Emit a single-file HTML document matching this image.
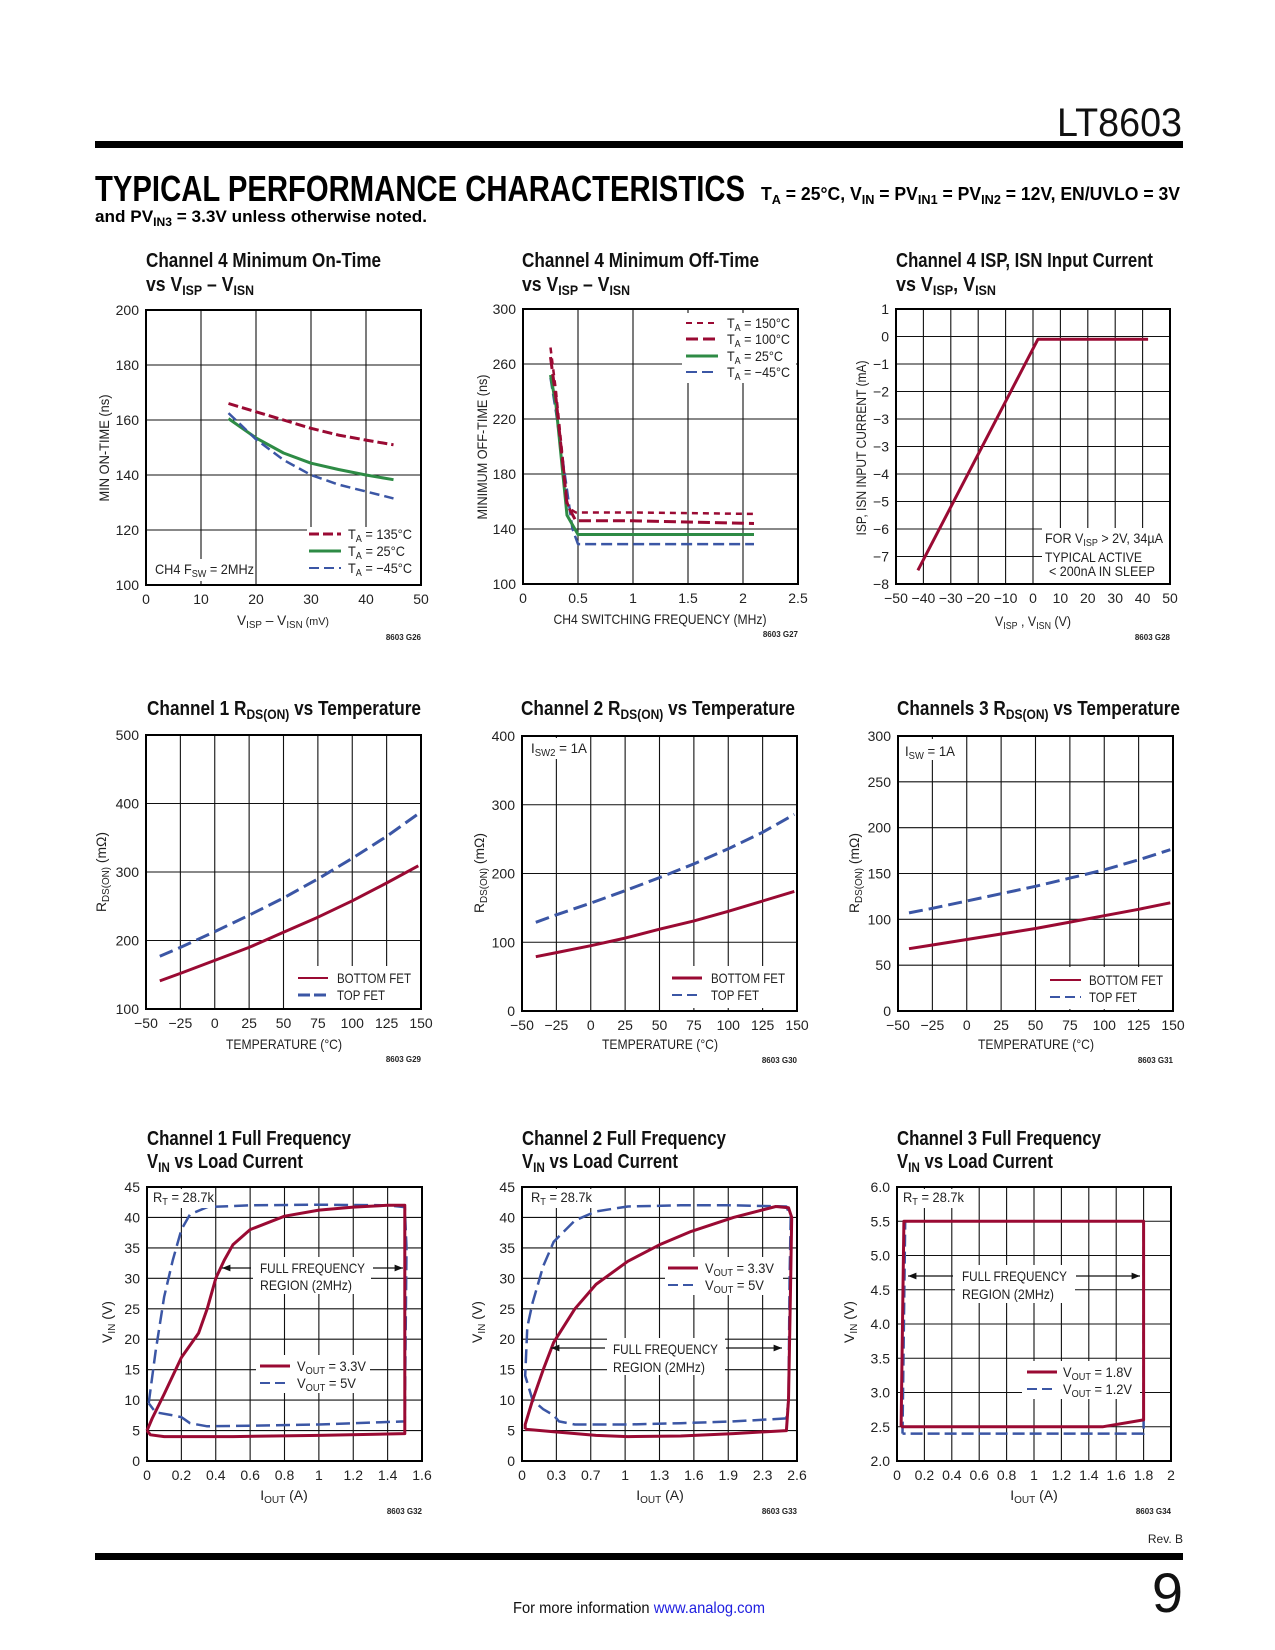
<!DOCTYPE html>
<html><head><meta charset="utf-8">
<style>
html,body{margin:0;padding:0;background:#fff;}
svg{display:block;}
text{font-family:"Liberation Sans Narrow","Liberation Sans",sans-serif;fill:#222;}
.tt{font-weight:bold;font-size:20px;fill:#111;}
.tk{font-size:14px;}
.ax{font-size:14px;}
.lg{font-size:14px;}
.id{font-size:8px;font-weight:bold;}
</style></head>
<body>
<svg id="page" xmlns="http://www.w3.org/2000/svg" width="1275" height="1650" viewBox="0 0 1275 1650">
<defs>
<marker id="arr" viewBox="0 0 10 10" refX="10" refY="5" markerWidth="9" markerHeight="7" orient="auto-start-reverse"><path d="M0,1 L10,5 L0,9 Z" fill="#111"/></marker>
</defs>
<rect x="0" y="0" width="1275" height="1650" fill="#fff"/>
<!-- header -->
<text x="1182" y="136" text-anchor="end" textLength="125" lengthAdjust="spacingAndGlyphs" style="font-size:40px;fill:#111">LT8603</text>
<rect x="95" y="141" width="1088" height="7" fill="#000"/>
<text x="95" y="201" textLength="650" lengthAdjust="spacingAndGlyphs" style="font-family:'Liberation Sans',sans-serif;font-weight:900;font-size:36px;fill:#000">TYPICAL PERFORMANCE CHARACTERISTICS</text>
<text x="761" y="200" textLength="419" lengthAdjust="spacingAndGlyphs" style="font-weight:bold;font-size:18px;fill:#000">T<tspan font-size="13" dy="4">A</tspan><tspan dy="-4"> = 25°C, V</tspan><tspan font-size="13" dy="4">IN</tspan><tspan dy="-4"> = PV</tspan><tspan font-size="13" dy="4">IN1</tspan><tspan dy="-4"> = PV</tspan><tspan font-size="13" dy="4">IN2</tspan><tspan dy="-4"> = 12V, EN/UVLO = 3V</tspan></text>
<text x="95" y="222" textLength="332" lengthAdjust="spacingAndGlyphs" style="font-weight:bold;font-size:17px;fill:#000">and PV<tspan font-size="12" dy="4">IN3</tspan><tspan dy="-4"> = 3.3V unless otherwise noted.</tspan></text>

<!-- chart titles -->
<text class="tt" x="146" y="267" textLength="235" lengthAdjust="spacingAndGlyphs">Channel 4 Minimum On-Time</text>
<text class="tt" x="146" y="291" textLength="108" lengthAdjust="spacingAndGlyphs">vs V<tspan font-size="14" dy="4">ISP</tspan><tspan dy="-4"> – V</tspan><tspan font-size="14" dy="4">ISN</tspan></text>
<text class="tt" x="522" y="267" textLength="237" lengthAdjust="spacingAndGlyphs">Channel 4 Minimum Off-Time</text>
<text class="tt" x="522" y="291" textLength="108" lengthAdjust="spacingAndGlyphs">vs V<tspan font-size="14" dy="4">ISP</tspan><tspan dy="-4"> – V</tspan><tspan font-size="14" dy="4">ISN</tspan></text>
<text class="tt" x="896" y="267" textLength="257" lengthAdjust="spacingAndGlyphs">Channel 4 ISP, ISN Input Current</text>
<text class="tt" x="896" y="291" textLength="100" lengthAdjust="spacingAndGlyphs">vs V<tspan font-size="14" dy="4">ISP</tspan><tspan dy="-4">, V</tspan><tspan font-size="14" dy="4">ISN</tspan></text>

<text class="tt" x="147" y="715" textLength="274" lengthAdjust="spacingAndGlyphs">Channel 1 R<tspan font-size="14" dy="4">DS(ON)</tspan><tspan dy="-4"> vs Temperature</tspan></text>
<text class="tt" x="521" y="715" textLength="274" lengthAdjust="spacingAndGlyphs">Channel 2 R<tspan font-size="14" dy="4">DS(ON)</tspan><tspan dy="-4"> vs Temperature</tspan></text>
<text class="tt" x="897" y="715" textLength="283" lengthAdjust="spacingAndGlyphs">Channels 3 R<tspan font-size="14" dy="4">DS(ON)</tspan><tspan dy="-4"> vs Temperature</tspan></text>

<text class="tt" x="147" y="1145" textLength="204" lengthAdjust="spacingAndGlyphs">Channel 1 Full Frequency</text>
<text class="tt" x="147" y="1168" textLength="156" lengthAdjust="spacingAndGlyphs">V<tspan font-size="14" dy="4">IN</tspan><tspan dy="-4"> vs Load Current</tspan></text>
<text class="tt" x="522" y="1145" textLength="204" lengthAdjust="spacingAndGlyphs">Channel 2 Full Frequency</text>
<text class="tt" x="522" y="1168" textLength="156" lengthAdjust="spacingAndGlyphs">V<tspan font-size="14" dy="4">IN</tspan><tspan dy="-4"> vs Load Current</tspan></text>
<text class="tt" x="897" y="1145" textLength="204" lengthAdjust="spacingAndGlyphs">Channel 3 Full Frequency</text>
<text class="tt" x="897" y="1168" textLength="156" lengthAdjust="spacingAndGlyphs">V<tspan font-size="14" dy="4">IN</tspan><tspan dy="-4"> vs Load Current</tspan></text>

<g id="plots"></g>

<!-- axis titles -->
<text class="ax" transform="translate(109,448) rotate(-90)" text-anchor="middle" textLength="107" lengthAdjust="spacingAndGlyphs">MIN ON-TIME (ns)</text>
<text class="ax" x="283" y="625" text-anchor="middle" textLength="92" lengthAdjust="spacingAndGlyphs">V<tspan font-size="10" dy="3">ISP</tspan><tspan dy="-3"> – V</tspan><tspan font-size="10" dy="3">ISN</tspan><tspan dy="-3" font-size="11"> (mV)</tspan></text>
<text class="id" x="421" y="640" text-anchor="end">8603 G26</text>

<text class="ax" transform="translate(487,447) rotate(-90)" text-anchor="middle" textLength="145" lengthAdjust="spacingAndGlyphs">MINIMUM OFF-TIME (ns)</text>
<text class="ax" x="660" y="624" text-anchor="middle" textLength="213" lengthAdjust="spacingAndGlyphs">CH4 SWITCHING FREQUENCY (MHz)</text>
<text class="id" x="798" y="637" text-anchor="end">8603 G27</text>

<text class="ax" transform="translate(866,448) rotate(-90)" text-anchor="middle" textLength="175" lengthAdjust="spacingAndGlyphs">ISP, ISN INPUT CURRENT (mA)</text>
<text class="ax" x="1033" y="626" text-anchor="middle" textLength="76" lengthAdjust="spacingAndGlyphs">V<tspan font-size="10" dy="3">ISP</tspan><tspan dy="-3"> , V</tspan><tspan font-size="10" dy="3">ISN</tspan><tspan dy="-3"> (V)</tspan></text>
<text class="id" x="1170" y="640" text-anchor="end">8603 G28</text>

<text class="ax" transform="translate(106,872) rotate(-90)" text-anchor="middle" textLength="80" lengthAdjust="spacingAndGlyphs">R<tspan font-size="10" dy="3">DS(ON)</tspan><tspan dy="-3"> (mΩ)</tspan></text>
<text class="ax" x="284" y="1049" text-anchor="middle" textLength="116" lengthAdjust="spacingAndGlyphs">TEMPERATURE (°C)</text>
<text class="id" x="421" y="1062" text-anchor="end">8603 G29</text>

<text class="ax" transform="translate(484,873) rotate(-90)" text-anchor="middle" textLength="80" lengthAdjust="spacingAndGlyphs">R<tspan font-size="10" dy="3">DS(ON)</tspan><tspan dy="-3"> (mΩ)</tspan></text>
<text class="ax" x="660" y="1049" text-anchor="middle" textLength="116" lengthAdjust="spacingAndGlyphs">TEMPERATURE (°C)</text>
<text class="id" x="797" y="1063" text-anchor="end">8603 G30</text>

<text class="ax" transform="translate(859,873) rotate(-90)" text-anchor="middle" textLength="80" lengthAdjust="spacingAndGlyphs">R<tspan font-size="10" dy="3">DS(ON)</tspan><tspan dy="-3"> (mΩ)</tspan></text>
<text class="ax" x="1036" y="1049" text-anchor="middle" textLength="116" lengthAdjust="spacingAndGlyphs">TEMPERATURE (°C)</text>
<text class="id" x="1173" y="1063" text-anchor="end">8603 G31</text>

<text class="ax" transform="translate(112,1322) rotate(-90)" text-anchor="middle">V<tspan font-size="10" dy="3">IN</tspan><tspan dy="-3"> (V)</tspan></text>
<text class="ax" x="284" y="1500" text-anchor="middle">I<tspan font-size="10" dy="3">OUT</tspan><tspan dy="-3"> (A)</tspan></text>
<text class="id" x="422" y="1514" text-anchor="end">8603 G32</text>

<text class="ax" transform="translate(482,1322) rotate(-90)" text-anchor="middle">V<tspan font-size="10" dy="3">IN</tspan><tspan dy="-3"> (V)</tspan></text>
<text class="ax" x="660" y="1500" text-anchor="middle">I<tspan font-size="10" dy="3">OUT</tspan><tspan dy="-3"> (A)</tspan></text>
<text class="id" x="797" y="1514" text-anchor="end">8603 G33</text>

<text class="ax" transform="translate(854,1322) rotate(-90)" text-anchor="middle">V<tspan font-size="10" dy="3">IN</tspan><tspan dy="-3"> (V)</tspan></text>
<text class="ax" x="1034" y="1500" text-anchor="middle">I<tspan font-size="10" dy="3">OUT</tspan><tspan dy="-3"> (A)</tspan></text>
<text class="id" x="1171" y="1514" text-anchor="end">8603 G34</text>

<!-- chart 1 overlays -->
<g>
<rect x="307" y="527" width="113" height="57" fill="#fff"/>
<line x1="309" y1="534" x2="341" y2="534" stroke="#9a0a33" stroke-width="3" stroke-dasharray="10 4"/>
<line x1="309" y1="551" x2="341" y2="551" stroke="#2e8b45" stroke-width="3"/>
<line x1="309" y1="568" x2="341" y2="568" stroke="#3b56a5" stroke-width="2" stroke-dasharray="10 5"/>
<text class="lg" x="348" y="539" textLength="64" lengthAdjust="spacingAndGlyphs">T<tspan font-size="10" dy="3">A</tspan><tspan dy="-3"> = 135°C</tspan></text>
<text class="lg" x="348" y="556" textLength="57" lengthAdjust="spacingAndGlyphs">T<tspan font-size="10" dy="3">A</tspan><tspan dy="-3"> = 25°C</tspan></text>
<text class="lg" x="348" y="573" textLength="64" lengthAdjust="spacingAndGlyphs">T<tspan font-size="10" dy="3">A</tspan><tspan dy="-3"> = −45°C</tspan></text>
</g>
<g>
<rect x="151" y="559" width="104" height="22" fill="#fff"/>
<text class="lg" x="155" y="574" textLength="99" lengthAdjust="spacingAndGlyphs">CH4 F<tspan font-size="10" dy="3">SW</tspan><tspan dy="-3"> = 2MHz</tspan></text>
</g>
<!-- chart 2 overlays -->
<g>
<rect x="682" y="313" width="114" height="70" fill="#fff"/>
<line x1="686" y1="323" x2="718" y2="323" stroke="#9a0a33" stroke-width="2" stroke-dasharray="6 5"/>
<line x1="686" y1="339" x2="718" y2="339" stroke="#9a0a33" stroke-width="3" stroke-dasharray="12 5"/>
<line x1="686" y1="356" x2="718" y2="356" stroke="#2e8b45" stroke-width="3"/>
<line x1="686" y1="372" x2="718" y2="372" stroke="#3b56a5" stroke-width="2" stroke-dasharray="11 5"/>
<text class="lg" x="727" y="328" textLength="63" lengthAdjust="spacingAndGlyphs">T<tspan font-size="10" dy="3">A</tspan><tspan dy="-3"> = 150°C</tspan></text>
<text class="lg" x="727" y="344" textLength="63" lengthAdjust="spacingAndGlyphs">T<tspan font-size="10" dy="3">A</tspan><tspan dy="-3"> = 100°C</tspan></text>
<text class="lg" x="727" y="361" textLength="56" lengthAdjust="spacingAndGlyphs">T<tspan font-size="10" dy="3">A</tspan><tspan dy="-3"> = 25°C</tspan></text>
<text class="lg" x="727" y="377" textLength="63" lengthAdjust="spacingAndGlyphs">T<tspan font-size="10" dy="3">A</tspan><tspan dy="-3"> = −45°C</tspan></text>
</g>
<!-- chart 3 overlays -->
<g>
<rect x="1042" y="528" width="127" height="55" fill="#fff"/>
<text class="lg" x="1045" y="543" textLength="118" lengthAdjust="spacingAndGlyphs">FOR V<tspan font-size="10" dy="3">ISP</tspan><tspan dy="-3"> &gt; 2V, 34µA</tspan></text>
<text class="lg" x="1045" y="562" textLength="97" lengthAdjust="spacingAndGlyphs">TYPICAL ACTIVE</text>
<text class="lg" x="1049" y="576" textLength="106" lengthAdjust="spacingAndGlyphs">&lt; 200nA IN SLEEP</text>
</g>
<!-- chart 4-6 legends -->
<g>
<rect x="297" y="966" width="123" height="42" fill="#fff"/>
<line x1="298" y1="978" x2="328" y2="978" stroke="#9a0a33" stroke-width="2"/>
<line x1="298" y1="995" x2="328" y2="995" stroke="#3b56a5" stroke-width="3" stroke-dasharray="12 4"/>
<text class="lg" x="337" y="983" textLength="74" lengthAdjust="spacingAndGlyphs">BOTTOM FET</text>
<text class="lg" x="337" y="1000" textLength="48" lengthAdjust="spacingAndGlyphs">TOP FET</text>
</g>
<g>
<rect x="527" y="738" width="60" height="21" fill="#fff"/>
<text class="lg" x="531" y="753" textLength="56" lengthAdjust="spacingAndGlyphs">I<tspan font-size="10" dy="3">SW2</tspan><tspan dy="-3"> = 1A</tspan></text>
</g>
<g>
<rect x="668" y="966" width="128" height="42" fill="#fff"/>
<line x1="672" y1="978" x2="702" y2="978" stroke="#9a0a33" stroke-width="3"/>
<line x1="672" y1="995" x2="702" y2="995" stroke="#3b56a5" stroke-width="2" stroke-dasharray="10 5"/>
<text class="lg" x="711" y="983" textLength="74" lengthAdjust="spacingAndGlyphs">BOTTOM FET</text>
<text class="lg" x="711" y="1000" textLength="48" lengthAdjust="spacingAndGlyphs">TOP FET</text>
</g>
<g>
<rect x="902" y="739" width="55" height="21" fill="#fff"/>
<text class="lg" x="905" y="756" textLength="50" lengthAdjust="spacingAndGlyphs">I<tspan font-size="10" dy="3">SW</tspan><tspan dy="-3"> = 1A</tspan></text>
</g>
<g>
<rect x="1045" y="967" width="127" height="42" fill="#fff"/>
<line x1="1050" y1="980" x2="1081" y2="980" stroke="#9a0a33" stroke-width="2"/>
<line x1="1050" y1="997" x2="1081" y2="997" stroke="#3b56a5" stroke-width="2" stroke-dasharray="10 5"/>
<text class="lg" x="1089" y="985" textLength="74" lengthAdjust="spacingAndGlyphs">BOTTOM FET</text>
<text class="lg" x="1089" y="1002" textLength="48" lengthAdjust="spacingAndGlyphs">TOP FET</text>
</g>
<!-- chart 7 overlays -->
<g>
<rect x="149" y="1189" width="66" height="19" fill="#fff"/>
<text class="lg" x="153" y="1202" textLength="61" lengthAdjust="spacingAndGlyphs">R<tspan font-size="10" dy="3">T</tspan><tspan dy="-3"> = 28.7k</tspan></text>
</g>
<g>
<rect x="253" y="1257" width="118" height="37" fill="#fff"/>
<text class="lg" x="260" y="1273" textLength="105" lengthAdjust="spacingAndGlyphs">FULL FREQUENCY</text>
<text class="lg" x="260" y="1290" textLength="92" lengthAdjust="spacingAndGlyphs">REGION (2MHz)</text>
<line x1="251" y1="1268" x2="222" y2="1268" stroke="#111" stroke-width="1.2" marker-end="url(#arr)"/>
<line x1="373" y1="1268" x2="403" y2="1268" stroke="#111" stroke-width="1.2" marker-end="url(#arr)"/>
</g>
<g>
<rect x="256" y="1355" width="114" height="38" fill="#fff"/>
<line x1="260" y1="1366" x2="290" y2="1366" stroke="#9a0a33" stroke-width="3"/>
<line x1="260" y1="1383" x2="290" y2="1383" stroke="#3b56a5" stroke-width="2" stroke-dasharray="10 5"/>
<text class="lg" x="297" y="1371" textLength="69" lengthAdjust="spacingAndGlyphs">V<tspan font-size="10" dy="3">OUT</tspan><tspan dy="-3"> = 3.3V</tspan></text>
<text class="lg" x="297" y="1388" textLength="59" lengthAdjust="spacingAndGlyphs">V<tspan font-size="10" dy="3">OUT</tspan><tspan dy="-3"> = 5V</tspan></text>
</g>
<!-- chart 8 overlays -->
<g>
<rect x="527" y="1189" width="66" height="19" fill="#fff"/>
<text class="lg" x="531" y="1202" textLength="61" lengthAdjust="spacingAndGlyphs">R<tspan font-size="10" dy="3">T</tspan><tspan dy="-3"> = 28.7k</tspan></text>
</g>
<g>
<rect x="665" y="1257" width="118" height="38" fill="#fff"/>
<line x1="668" y1="1268" x2="698" y2="1268" stroke="#9a0a33" stroke-width="3"/>
<line x1="668" y1="1285" x2="698" y2="1285" stroke="#3b56a5" stroke-width="2" stroke-dasharray="10 5"/>
<text class="lg" x="705" y="1273" textLength="69" lengthAdjust="spacingAndGlyphs">V<tspan font-size="10" dy="3">OUT</tspan><tspan dy="-3"> = 3.3V</tspan></text>
<text class="lg" x="705" y="1290" textLength="59" lengthAdjust="spacingAndGlyphs">V<tspan font-size="10" dy="3">OUT</tspan><tspan dy="-3"> = 5V</tspan></text>
</g>
<g>
<rect x="607" y="1338" width="118" height="37" fill="#fff"/>
<text class="lg" x="613" y="1354" textLength="105" lengthAdjust="spacingAndGlyphs">FULL FREQUENCY</text>
<text class="lg" x="613" y="1372" textLength="92" lengthAdjust="spacingAndGlyphs">REGION (2MHz)</text>
<line x1="605" y1="1348" x2="551" y2="1348" stroke="#111" stroke-width="1.2" marker-end="url(#arr)"/>
<line x1="726" y1="1348" x2="782" y2="1348" stroke="#111" stroke-width="1.2" marker-end="url(#arr)"/>
</g>
<!-- chart 9 overlays -->
<g>
<rect x="901" y="1189" width="66" height="19" fill="#fff"/>
<text class="lg" x="903" y="1202" textLength="61" lengthAdjust="spacingAndGlyphs">R<tspan font-size="10" dy="3">T</tspan><tspan dy="-3"> = 28.7k</tspan></text>
</g>
<g>
<rect x="955" y="1265" width="120" height="38" fill="#fff"/>
<text class="lg" x="962" y="1281" textLength="105" lengthAdjust="spacingAndGlyphs">FULL FREQUENCY</text>
<text class="lg" x="962" y="1299" textLength="92" lengthAdjust="spacingAndGlyphs">REGION (2MHz)</text>
<line x1="953" y1="1276" x2="908" y2="1276" stroke="#111" stroke-width="1.2" marker-end="url(#arr)"/>
<line x1="1076" y1="1276" x2="1140" y2="1276" stroke="#111" stroke-width="1.2" marker-end="url(#arr)"/>
</g>
<g>
<rect x="1022" y="1361" width="118" height="38" fill="#fff"/>
<line x1="1027" y1="1372" x2="1057" y2="1372" stroke="#9a0a33" stroke-width="3"/>
<line x1="1027" y1="1389" x2="1057" y2="1389" stroke="#3b56a5" stroke-width="2" stroke-dasharray="10 5"/>
<text class="lg" x="1063" y="1377" textLength="69" lengthAdjust="spacingAndGlyphs">V<tspan font-size="10" dy="3">OUT</tspan><tspan dy="-3"> = 1.8V</tspan></text>
<text class="lg" x="1063" y="1394" textLength="69" lengthAdjust="spacingAndGlyphs">V<tspan font-size="10" dy="3">OUT</tspan><tspan dy="-3"> = 1.2V</tspan></text>
</g>

<!-- footer -->
<text x="1183" y="1543" text-anchor="end" style="font-size:12px">Rev. B</text>
<rect x="95" y="1553" width="1088" height="7" fill="#000"/>
<text x="1183" y="1612" text-anchor="end" style="font-size:56px;fill:#111">9</text>
<text x="513" y="1613" textLength="252" lengthAdjust="spacingAndGlyphs" style="font-size:16px;fill:#111">For more information <tspan fill="#2020e0">www.analog.com</tspan></text>
</svg>
<script>
// ---------- data ----------
// Chart 1: min on-time vs VISP-VISN
const c1X = [15, 20, 25, 30, 35, 40, 45];
const c1T135 = [166, 163, 160, 157, 154.5, 152.7, 151];
const c1T25 = [160.5, 153.5, 148, 144.3, 142, 140, 138.3];
const c1Tm45 = [162.5, 153, 145.5, 140, 136.5, 134, 131.5];
const c1XTicks = [0, 10, 20, 30, 40, 50];
const c1YTicks = [100, 120, 140, 160, 180, 200];
// Chart 2: min off-time vs freq
const c2X150 = [0.25, 0.3, 0.4, 0.42, 0.48, 1, 2.1];
const c2Y150 = [272, 240, 160, 155, 152, 152, 151];
const c2X100 = [0.25, 0.3, 0.4, 0.48, 1, 2.1];
const c2Y100 = [265, 235, 158, 146, 146, 144];
const c2X25 = [0.25, 0.3, 0.4, 0.5, 2.1];
const c2Y25 = [252, 230, 150, 136, 136];
const c2Xm45 = [0.25, 0.3, 0.45, 0.5, 2.1];
const c2Ym45 = [250, 225, 140, 129, 129];
const c2XTicks = [0, 0.5, 1, 1.5, 2, 2.5];
const c2XLabels = ["0", "0.5", "1", "1.5", "2", "2.5"];
const c2YTicks = [100, 140, 180, 220, 260, 300];
// Chart 3: input current
const c3X = [-42, 1.8, 42];
const c3Y = [-8.5, -0.1, -0.1];
const c3XTicks = [-50, -40, -30, -20, -10, 0, 10, 20, 30, 40, 50];
const c3YTicks = [1, 0, -1, -2, -3, -4, -5, -6, -7, -8, -9];
const c3YLabels = ["1", "0", "−1", "−2", "−3", "−3", "−4", "−5", "−6", "−7", "−8"];
// Chart 4-6: RDS(ON) vs temperature
const tempTicks = [-50, -25, 0, 25, 50, 75, 100, 125, 150];
const c4T = [-40, -25, 0, 25, 50, 75, 100, 125, 148];
const c4Bottom = [141, 152, 171, 190, 212, 234, 258, 284, 309];
const c4Top = [177, 190, 213, 237, 262, 290, 320, 352, 385];
const c4YTicks = [100, 200, 300, 400, 500];
const c5T = [-40, -25, 0, 25, 50, 75, 100, 125, 148];
const c5Bottom = [79, 85, 95, 106, 119, 131, 145, 160, 174];
const c5Top = [129, 140, 157, 175, 194, 214, 236, 260, 286];
const c5YTicks = [0, 100, 200, 300, 400];
const c6T = [-42, -25, 0, 25, 50, 75, 100, 125, 148];
const c6Bottom = [68, 72, 78, 84, 90, 97, 104, 111, 118];
const c6Top = [107, 112, 120, 128, 136, 145, 154, 165, 176];
const c6YTicks = [0, 50, 100, 150, 200, 250, 300];
// Chart 7: ch1 full frequency
const c7X33 = [0, 0.02, 0.1, 0.5, 1, 1.5, 1.5, 1.4, 1.2, 1, 0.8, 0.6, 0.5, 0.45, 0.4, 0.35, 0.3, 0.2, 0.1, 0.03, 0];
const c7Y33 = [5, 4.3, 4, 4, 4.2, 4.5, 42, 42, 41.7, 41.2, 40.2, 38, 35.5, 33, 30, 25, 21, 17, 11, 7, 5];
const c7X5 = [0.01, 0.05, 0.1, 0.15, 0.2, 0.25, 0.35, 0.6, 1, 1.4, 1.5, 1.51, 1.5, 1.2, 1, 0.6, 0.35, 0.25, 0.2, 0.15, 0.05, 0.01];
const c7Y5 = [9.5, 18, 27, 33, 38, 40.5, 41.7, 42, 42.1, 42, 41.7, 35, 6.5, 6.2, 6, 5.8, 5.7, 6.2, 7.2, 7.5, 8, 9.5];
const c7XTicks = [0, 0.2, 0.4, 0.6, 0.8, 1, 1.2, 1.4, 1.6];
const c7XLabels = ["0", "0.2", "0.4", "0.6", "0.8", "1", "1.2", "1.4", "1.6"];
const vinTicks = [0, 5, 10, 15, 20, 25, 30, 35, 40, 45];
// Chart 8: ch2 full frequency
const c8X33 = [0.03, 0.1, 0.3, 0.7, 1, 1.5, 2, 2.5, 2.52, 2.54, 2.55, 2.52, 2.4, 2, 1.6, 1.3, 1, 0.7, 0.5, 0.3, 0.2, 0.1, 0.03, 0.03];
const c8Y33 = [5.2, 5.1, 4.8, 4.2, 4, 4.1, 4.5, 5, 10, 30, 40, 41.6, 41.8, 40, 37.7, 35.5, 32.8, 29, 25, 19.5, 15, 10, 6, 5.2];
const c8X5 = [2.5, 2, 1.5, 1, 0.5, 0.35, 0.3, 0.2, 0.1, 0.03, 0.05, 0.1, 0.2, 0.3, 0.5, 0.7, 1, 1.5, 2, 2.5, 2.54, 2.53, 2.52, 2.5];
const c8Y5 = [7, 6.5, 6.2, 6, 6, 6.5, 7.5, 8.5, 10, 14, 22, 26, 32, 36, 39.5, 41, 41.8, 42, 42, 41.8, 40, 30, 10, 7];
const c8XTicks = [0, 0.325, 0.65, 0.975, 1.3, 1.625, 1.95, 2.275, 2.6];
const c8XLabels = ["0", "0.3", "0.7", "1", "1.3", "1.6", "1.9", "2.3", "2.6"];
// Chart 9: ch3 full frequency
const c9X18 = [0.03, 0.05, 1.8, 1.8, 1.5, 0.03];
const c9Y18 = [2.5, 5.5, 5.5, 2.6, 2.5, 2.5];
const c9X12 = [0.04, 0.06, 1.8, 1.8, 0.04];
const c9Y12 = [2.4, 5.5, 5.5, 2.4, 2.4];
const c9XTicks = [0, 0.2, 0.4, 0.6, 0.8, 1, 1.2, 1.4, 1.6, 1.8, 2];
const c9XLabels = ["0", "0.2", "0.4", "0.6", "0.8", "1", "1.2", "1.4", "1.6", "1.8", "2"];
const c9YTicks = [2, 2.5, 3, 3.5, 4, 4.5, 5, 5.5, 6];
const c9YLabels = ["2.0", "2.5", "3.0", "3.5", "4.0", "4.5", "5.0", "5.5", "6.0"];

// ---------- drawing ----------
const NS = 'http://www.w3.org/2000/svg';
const layer = document.getElementById('plots');
const RED = '#9a0a33', BLUE = '#3b56a5', GREEN = '#2e8b45';
function mk(tag, parent) { const e = document.createElementNS(NS, tag); parent.appendChild(e); return e; }
function sa(e, o) { for (const k in o) e.setAttribute(k, o[k]); }
function scale(d0, d1, p0, p1) { return v => p0 + (v - d0) / (d1 - d0) * (p1 - p0); }
function fmt(v) { return String(v).replace('-', '\u2212'); }

function axes(id, box, xd, yd, xTicks, xLabels, yTicks, yLabels) {
  const g = mk('g', layer);
  
  
  const sx = scale(xd[0], xd[1], box.L, box.R);
  const sy = scale(yd[0], yd[1], box.B, box.T);
  const bg = mk('rect', g);
  sa(bg, { x: box.L, y: box.T, width: box.R - box.L, height: box.B - box.T, fill: '#fff' });
  
  
  xTicks.forEach((v, i) => {
    const x = sx(v);
    const ln = mk('line', g);
    sa(ln, { x1: x, y1: box.T, x2: x, y2: box.B, stroke: '#111', 'stroke-width': 1.1 });
    
    
    const t = mk('text', g);
    sa(t, { x: x, y: box.B + 19, 'text-anchor': 'middle', class: 'tk' });
    t.textContent = xLabels ? xLabels[i] : fmt(v);
    
    
  });
  yTicks.forEach((v, i) => {
    const y = sy(v);
    const ln = mk('line', g);
    sa(ln, { x1: box.L, y1: y, x2: box.R, y2: y, stroke: '#111', 'stroke-width': 1.1 });
    
    
    const t = mk('text', g);
    sa(t, { x: box.L - 7, y: y + 5, 'text-anchor': 'end', class: 'tk' });
    t.textContent = yLabels ? yLabels[i] : fmt(v);
    
    
  });
  const fr = mk('rect', g);
  sa(fr, { x: box.L, y: box.T, width: box.R - box.L, height: box.B - box.T, fill: 'none', stroke: '#000', 'stroke-width': 2 });
  
  
  return { g, sx, sy };
}
function series(ax, xs, ys, color, width, dash, name) {
  const p = mk('polyline', ax.g);
  const pts = xs.map((x, i) => ax.sx(x).toFixed(1) + ',' + ax.sy(ys[i]).toFixed(1)).join(' ');
  sa(p, { points: pts, fill: 'none', stroke: color, 'stroke-width': width, 'stroke-linejoin': 'round', 'stroke-linecap': 'butt' });
  if (dash) p.setAttribute('stroke-dasharray', dash);
  
  
  return p;
}

let a;
a = axes('c1', { L: 146, R: 421, T: 310, B: 585 }, [0, 50], [100, 200], c1XTicks, null, c1YTicks, null);
series(a, c1X, c1T25, GREEN, 3, null, 'series-ta-25c');
series(a, c1X, c1Tm45, BLUE, 2.5, '10 5', 'series-ta-minus45c');
series(a, c1X, c1T135, RED, 3, '10 4', 'series-ta-135c');

a = axes('c2', { L: 523, R: 798, T: 309, B: 584 }, [0, 2.5], [100, 300], c2XTicks, c2XLabels, c2YTicks, null);
series(a, c2Xm45, c2Ym45, BLUE, 2.5, '11 5', 'series-ta-minus45c');
series(a, c2X25, c2Y25, GREEN, 3, null, 'series-ta-25c');
series(a, c2X100, c2Y100, RED, 3, '12 5', 'series-ta-100c');
series(a, c2X150, c2Y150, RED, 2.5, '6 5', 'series-ta-150c');

a = axes('c3', { L: 896, R: 1170, T: 309, B: 584 }, [-50, 50], [-9, 1], c3XTicks, null, c3YTicks, c3YLabels);
series(a, c3X, c3Y, RED, 3, null, 'series-input-current');

a = axes('c4', { L: 146, R: 421, T: 735, B: 1009 }, [-50, 150], [100, 500], tempTicks, null, c4YTicks, null);
series(a, c4T, c4Bottom, RED, 3, null, 'series-bottom-fet');
series(a, c4T, c4Top, BLUE, 3, '14 6', 'series-top-fet');

a = axes('c5', { L: 522, R: 797, T: 736, B: 1011 }, [-50, 150], [0, 400], tempTicks, null, c5YTicks, null);
series(a, c5T, c5Bottom, RED, 3, null, 'series-bottom-fet');
series(a, c5T, c5Top, BLUE, 3, '14 6', 'series-top-fet');

a = axes('c6', { L: 898, R: 1173, T: 736, B: 1011 }, [-50, 150], [0, 300], tempTicks, null, c6YTicks, null);
series(a, c6T, c6Bottom, RED, 3, null, 'series-bottom-fet');
series(a, c6T, c6Top, BLUE, 3, '14 6', 'series-top-fet');

a = axes('c7', { L: 147, R: 422, T: 1187, B: 1461 }, [0, 1.6], [0, 45], c7XTicks, c7XLabels, vinTicks, null);
series(a, c7X5, c7Y5, BLUE, 2.5, '14 6', 'series-vout-5v');
series(a, c7X33, c7Y33, RED, 3, null, 'series-vout-3v3');

a = axes('c8', { L: 522, R: 797, T: 1187, B: 1461 }, [0, 2.6], [0, 45], c8XTicks, c8XLabels, vinTicks, null);
series(a, c8X5, c8Y5, BLUE, 2.5, '14 6', 'series-vout-5v');
series(a, c8X33, c8Y33, RED, 3, null, 'series-vout-3v3');

a = axes('c9', { L: 897, R: 1171, T: 1187, B: 1461 }, [0, 2], [2, 6], c9XTicks, c9XLabels, c9YTicks, c9YLabels);
series(a, c9X12, c9Y12, BLUE, 2.5, '12 5', 'series-vout-1v2');
series(a, c9X18, c9Y18, RED, 3, null, 'series-vout-1v8');
</script>
</body></html>
